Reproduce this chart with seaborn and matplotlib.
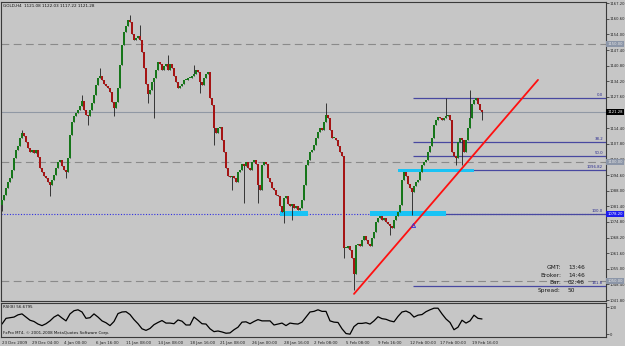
import numpy as np
import pandas as pd
import seaborn as sns
import matplotlib.pyplot as plt
from matplotlib.transforms import blended_transform_factory

# GOLD H4 closes
closes = [
    1084.1, 1086.2, 1089.2, 1091.7, 1093.4, 1096.8, 1101.8, 1105.2, 1106.9, 1110.3,
    1112.4, 1111.1, 1108.6, 1106.1, 1104.4, 1105.2, 1103.9, 1105.2, 1102.3, 1097.6,
    1095.9, 1094.2, 1093.4, 1091.7, 1090.4, 1092.5, 1094.7, 1097.6, 1100.1, 1101.0,
    1098.5, 1096.8, 1095.9, 1101.8, 1111.5, 1117.0, 1119.6, 1120.8, 1122.1, 1123.8,
    1125.9, 1122.1, 1120.0, 1119.6, 1122.1, 1125.1, 1128.4, 1132.7, 1135.6, 1136.5,
    1134.8, 1133.1, 1132.2, 1131.4, 1129.7, 1125.5, 1123.0, 1125.5, 1131.4, 1141.1,
    1149.6, 1155.1, 1157.6, 1160.1, 1159.3, 1154.2, 1151.7, 1152.5, 1153.4, 1151.7,
    1146.6, 1139.9, 1133.1, 1128.9, 1130.6, 1134.0, 1135.6, 1139.0, 1142.4, 1141.5,
    1139.0, 1140.7, 1141.5, 1139.0, 1141.5, 1139.9, 1136.5, 1134.0, 1131.4, 1132.2,
    1133.1, 1134.8, 1134.8, 1135.6, 1135.6, 1136.5, 1137.3, 1139.0, 1138.2, 1134.0,
    1132.7, 1135.6, 1137.3, 1138.2, 1127.2, 1124.2, 1114.5, 1112.4, 1114.5, 1114.9,
    1109.4, 1104.4, 1097.6, 1094.2, 1093.8, 1094.2, 1093.4, 1091.7, 1095.9, 1096.8,
    1099.3, 1098.5, 1100.1, 1097.6, 1096.8, 1100.1, 1101.0, 1099.3, 1090.4, 1088.3,
    1098.9, 1100.1, 1099.3, 1093.4, 1091.7, 1089.2, 1088.3, 1086.2, 1085.8, 1081.6,
    1079.0, 1084.9, 1085.8, 1082.4, 1081.6, 1082.4, 1080.7, 1081.6, 1079.9, 1080.7,
    1084.1, 1090.4, 1098.9, 1101.0, 1104.4, 1105.2, 1107.3, 1110.3, 1112.8, 1114.5,
    1113.7, 1117.0, 1120.0, 1118.7, 1113.7, 1110.3, 1110.3, 1109.4, 1106.9, 1104.4,
    1102.7, 1063.8, 1063.8, 1064.7, 1063.0, 1059.6, 1052.8, 1065.1, 1065.5, 1064.7,
    1067.2, 1068.9, 1067.2, 1065.5, 1064.7, 1068.0, 1070.6, 1074.8, 1076.5, 1077.3,
    1075.6, 1076.5, 1074.8, 1073.9, 1073.1, 1072.3, 1075.6, 1077.3, 1079.0, 1082.0,
    1092.5, 1095.9, 1094.2, 1090.8, 1089.2, 1087.5, 1090.0, 1091.7, 1092.5, 1095.9,
    1098.9, 1100.1, 1101.0, 1104.4, 1106.9, 1110.3, 1115.8, 1117.9, 1119.2, 1118.7,
    1117.9, 1118.7, 1119.6, 1120.0, 1117.9, 1104.4, 1102.7, 1101.8, 1108.6, 1110.3,
    1109.4, 1104.4, 1109.4, 1114.5, 1118.7, 1124.6, 1126.3, 1127.2, 1124.6, 1122.1,
    1121.3,
]
first_open = 1082.0
# visible wick extremes (bar index: price)
wick_high = {10: 1113.7, 40: 1128.4, 49: 1139.9, 64: 1162.2, 69: 1158.0, 83: 1145.3,
             96: 1141.1, 162: 1125.1, 222: 1127.2, 234: 1130.6}
wick_low = {0: 1079.5, 24: 1085.8, 32: 1093.4, 43: 1115.8, 56: 1119.6, 73: 1125.1,
            76: 1118.7, 99: 1129.3, 106: 1107.3, 115: 1088.3, 121: 1082.8, 128: 1083.0,
            141: 1074.4, 145: 1075.6, 171: 1059.6, 176: 1046.1, 194: 1069.3, 205: 1077.8,
            227: 1098.9, 230: 1098.9, 240: 1117.9}

# RSI(8), one reading every second bar
rsi_values = [
    37.6, 58.8, 61.2, 63.5, 71.8, 75.3, 63.5, 51.8, 47.1, 37.6,
    31.8, 38.8, 49.4, 63.5, 71.8, 60.0, 49.4, 75.3, 87.1, 90.6,
    82.4, 58.8, 61.2, 75.3, 63.5, 49.4, 42.4, 31.8, 47.1, 76.5,
    82.4, 83.5, 72.9, 54.1, 38.8, 20.0, 14.1, 21.2, 35.3, 43.5,
    50.6, 41.2, 41.2, 38.8, 52.9, 48.2, 34.1, 34.1, 63.5, 51.8,
    38.8, 37.6, 20.0, 9.4, 11.8, 8.2, 3.5, 4.7, 16.5, 25.9,
    44.7, 45.9, 38.8, 47.1, 54.1, 49.4, 49.4, 49.4, 34.1, 37.6,
    41.2, 31.8, 41.2, 38.8, 37.6, 44.7, 63.5, 82.4, 84.7, 90.6,
    84.7, 84.7, 49.4, 44.7, 43.5, 20.0, 2.4, 0.0, 28.2, 40.0,
    40.0, 42.4, 37.6, 49.4, 64.7, 57.6, 55.3, 49.4, 45.9, 65.9,
    82.4, 85.9, 78.8, 63.5, 70.6, 72.9, 83.5, 90.6, 96.5, 96.5,
    75.3, 56.5, 43.5, 16.5, 25.9, 51.8, 41.2, 49.4, 70.6, 58.8,
    56.5,
]

price_ticks = [1167.20, 1160.60, 1154.00, 1147.40, 1140.80, 1134.20, 1127.60,
               1114.40, 1107.80, 1101.20, 1094.60, 1088.00, 1081.40, 1074.80, 1068.20,
               1061.60, 1055.00, 1048.40, 1041.80]
time_labels = ["23 Dec 2009", "29 Dec 04:00", "4 Jan 00:00", "6 Jan 16:00", "11 Jan 08:00",
               "14 Jan 08:00", "18 Jan 16:00", "21 Jan 08:00", "26 Jan 00:00", "28 Jan 16:00",
               "2 Feb 08:00", "5 Feb 08:00", "9 Feb 16:00", "12 Feb 00:00", "17 Feb 00:00",
               "19 Feb 16:00"]
time_label_bars = [0, 15, 31, 47, 62, 78, 94, 109, 125, 141, 156, 172, 188, 204, 219, 235]

round_levels = [1150.0, 1100.0, 1050.0]
bid_price = 1121.28
support_price = 1078.2
fib_names = ["0.0", "38.2", "50.0", "100.0", "161.8"]
fib_prices = [1127.2, 1108.5, 1102.7, 1078.2, 1047.9]
fib_start_bar = 205.5
level_1096 = 1096.82
trend_bars = [176, 268]
trend_prices = [1044.4, 1134.8]
zone_start = [139, 184, 198]
zone_end = [153, 222, 236]
zone_low = [1077.4, 1077.4, 1095.7]
zone_high = [1079.6, 1079.6, 1097.1]
info_keys = ["GMT:", "Broker:", "Bar:", "Spread:"]
info_vals = ["13:46", "14:46", "02:46", "50"]

bg = "#c6c6c6"
sns.set_theme(style="white", rc={"axes.facecolor": bg, "figure.facecolor": bg,
                                  "axes.edgecolor": "#3a3a3a"})
plt.rcParams["font.family"] = ["DejaVu Sans"]

W, H = 625, 346
fig = plt.figure(figsize=(W / 100, H / 100), dpi=100)
ax = fig.add_axes([1 / W, 1 - 301 / H, 605 / W, 299 / H])
ax2 = fig.add_axes([1 / W, 1 - 337 / H, 605 / W, 34 / H])

df = pd.DataFrame({"close": closes})
df["open"] = df["close"].shift(1).fillna(first_open)
df["high"] = df[["open", "close"]].max(axis=1)
df["low"] = df[["open", "close"]].min(axis=1)
for i, v in wick_high.items():
    df.loc[i, "high"] = max(df.loc[i, "high"], v)
for i, v in wick_low.items():
    df.loc[i, "low"] = min(df.loc[i, "low"], v)
df["bar"] = np.arange(len(df))
up = df["close"] >= df["open"]

# reference lines
for lv in round_levels:
    ax.axhline(lv, color="#8a8a8a", lw=0.8, dashes=(7, 4), zorder=1)
ax.axhline(bid_price, color="#9098a4", lw=0.8, zorder=1)
ax.axhline(support_price, color="#3030e0", lw=0.8, ls=(0, (1, 1.5)), zorder=1)
for name, p in zip(fib_names, fib_prices):
    ax.hlines(p, fib_start_bar, 302, color="#4848a0", lw=0.9, zorder=1)
    ax.text(300.5, p + 0.4, name, fontsize=2.8, color="#2a2a90", ha="right", va="bottom")
ax.hlines(level_1096, 198, 302, color="#4848a0", lw=0.9, zorder=1)
ax.text(300.5, level_1096 + 0.4, "1096.82", fontsize=2.8, color="#2a2a90", ha="right", va="bottom")

for s, e, lo, hi in zip(zone_start, zone_end, zone_low, zone_high):
    ax.fill_between([s, e], lo, hi, color="#19c3f5", lw=0, zorder=2)

# candles
ax.vlines(df["bar"], df["low"], df["high"], color="#1e1e1e", lw=0.6, zorder=3)
ax.bar(df["bar"], (df["close"] - df["open"]).where(lambda s: s.abs() > 0.3, 0.3),
       bottom=df["open"], width=0.9, color=np.where(up, "#16761a", "#a51414"),
       lw=0, zorder=4)

ax.plot(trend_bars, trend_prices, color="#ff1010", lw=1.3, zorder=5)
ax.plot([fib_start_bar], [1073.5], marker="^", ms=3, mfc="none", mec="#3030e0", mew=0.6,
        zorder=5)

ax.set_xlim(-0.5, 302)
ax.set_ylim(1041.4, 1167.7)
ax.set_xticks([])
ax.yaxis.tick_right()
ax.set_yticks(price_ticks)
ax.set_yticklabels([f"{t:.2f}" for t in price_ticks])
ax.tick_params(axis="y", labelsize=2.7, length=2, width=0.5, pad=0.8, colors="#222222")

tr = blended_transform_factory(ax.transAxes, ax.transData)
boxes = [(1150.0, "1150.00", "#8c96a8", "#e8e8e8"), (bid_price, "1121.28", "black", "white"),
         (1100.0, "1100.00", "#8c96a8", "#e8e8e8"), (support_price, "1078.20", "#1c1cf0", "white"),
         (1050.0, "1050.00", "#8c96a8", "#e8e8e8")]
for p, txt, fc, tc in boxes:
    ax.text(1.002, p, txt, transform=tr, fontsize=2.7, color=tc, va="center", ha="left",
            bbox=dict(boxstyle="square,pad=0.3", fc=fc, ec="none"), zorder=6, clip_on=False)

ax.text(0.004, 0.992, "GOLD,H4  1121.08 1122.03 1117.22 1121.28", transform=ax.transAxes,
        fontsize=3, color="#111111", va="top", ha="left")

info_y = [1055.6, 1052.3, 1049.2, 1045.8]
for k, v, y in zip(info_keys, info_vals, info_y):
    ax.text(279.5, y, k, fontsize=4.2, color="#1a1a1a", ha="right", va="center")
    ax.text(283, y, v, fontsize=4.2, color="#1a1a1a", ha="left", va="center")

# RSI window
sns.lineplot(x=np.arange(len(rsi_values)) * 2, y=rsi_values, ax=ax2, color="black", lw=0.9)
ax2.set_xlim(-0.5, 302)
ax2.set_ylim(-10.5, 115.8)
ax2.yaxis.tick_right()
ax2.set_yticks([0, 100])
ax2.set_yticklabels(["0", "100"])
ax2.tick_params(axis="y", labelsize=2.7, length=2, width=0.5, pad=0.8, colors="#222222")
ax2.set_xticks(time_label_bars)
ax2.set_xticklabels(time_labels, ha="left")
ax2.tick_params(axis="x", labelsize=2.9, length=2, width=0.5, pad=1, colors="#222222")
ax2.set_ylabel("")
ax2.text(0.004, 0.93, "RSI(8) 56.6795", transform=ax2.transAxes, fontsize=2.9,
         color="#111111", va="top", ha="left")
ax2.text(0.004, 0.06, "FxPro MT4, \u00a9 2001-2008 MetaQuotes Software Corp.",
         transform=ax2.transAxes, fontsize=2.9, color="#111111", va="bottom", ha="left")

for a in (ax, ax2):
    for sp in a.spines.values():
        sp.set_linewidth(0.8)

fig.savefig("out.png", dpi=100, facecolor=bg)
